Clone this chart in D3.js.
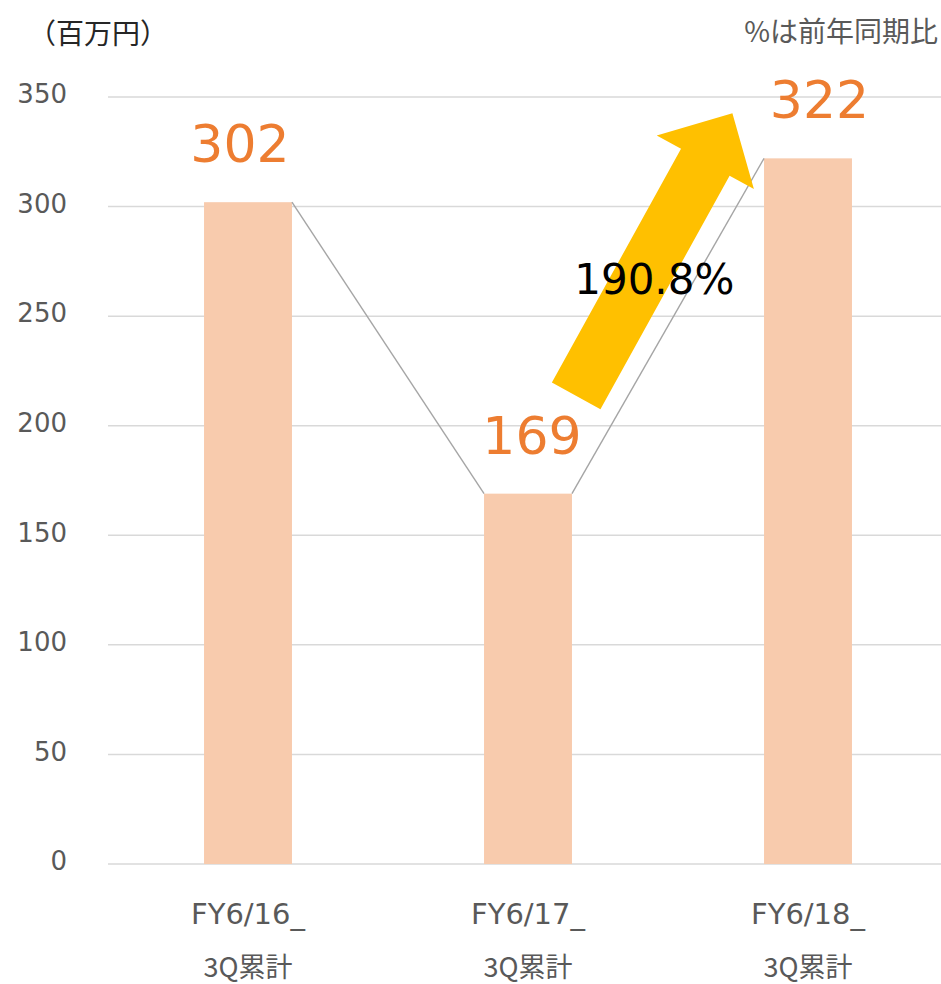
<!DOCTYPE html>
<html>
<head>
<meta charset="utf-8">
<script src="https://cdn.jsdelivr.net/npm/d3@7"></script>
<style>
  html, body { margin: 0; padding: 0; background: #fff; }
  svg { display: block; font-family: "DejaVu Sans", "Noto Sans CJK JP", sans-serif; }
</style>
</head>
<body>
<div id="chart"></div>
<script>
// --- data ---
const categories = ["FY6/16_", "FY6/17_", "FY6/18_"];
const subLabels = ["3Q累計", "3Q累計", "3Q累計"];
const sales = [302, 169, 322];
const yTicks = [0, 50, 100, 150, 200, 250, 300, 350];
const growthLabel = "190.8%";
const unitLabel = "（百万円）";
const noteLabel = "%は前年同期比";

// small hand nudges for the value labels (as in the source slide)
const labelNudge = [-8, 4, 11.5];

const width = 941, height = 984;
const margin = { top: 97, right: -7, bottom: 120, left: 108 };

const svg = d3.select("#chart").append("svg")
  .attr("width", width)
  .attr("height", height);

const x = d3.scaleBand()
  .domain(categories)
  .range([margin.left, width - margin.right])
  .paddingInner(0.686)
  .paddingOuter(0.343);

const y = d3.scaleLinear()
  .domain([0, 350])
  .range([height - margin.bottom, margin.top]);

// gridlines
svg.append("g")
  .selectAll("line")
  .data(yTicks)
  .join("line")
  .attr("x1", margin.left)
  .attr("x2", width)
  .attr("y1", d => y(d))
  .attr("y2", d => y(d))
  .attr("stroke", "#d9d9d9")
  .attr("stroke-width", 1.5);

// y axis labels
const yAxis = svg.append("g")
  .attr("transform", `translate(${margin.left},0)`)
  .call(d3.axisLeft(y).tickValues(yTicks).tickSize(0).tickPadding(41));
yAxis.select(".domain").remove();
yAxis.selectAll("text")
  .attr("dy", "0.22em")
  .style("font-family", "DejaVu Sans, sans-serif")
  .style("font-size", "26px")
  .attr("fill", "#595959");

// bars
svg.append("g")
  .selectAll("rect")
  .data(sales)
  .join("rect")
  .attr("x", (d, i) => x(categories[i]))
  .attr("y", d => y(d))
  .attr("width", x.bandwidth())
  .attr("height", d => y(0) - y(d))
  .attr("fill", "#F8CBAD");

// connector lines between bar tops
const conn = d3.range(sales.length - 1).map(i => [
  [x(categories[i]) + x.bandwidth(), y(sales[i])],
  [x(categories[i + 1]), y(sales[i + 1])]
]);
svg.append("g")
  .selectAll("line")
  .data(conn)
  .join("line")
  .attr("x1", d => d[0][0])
  .attr("y1", d => d[0][1])
  .attr("x2", d => d[1][0])
  .attr("y2", d => d[1][1])
  .attr("stroke", "#a5a5a5")
  .attr("stroke-width", 1.4);

// growth arrow (from bar 2 toward bar 3)
const xi = d3.scaleLinear()
  .domain([0, categories.length - 1])
  .range([x(categories[0]) + x.bandwidth() / 2, x(categories[categories.length - 1]) + x.bandwidth() / 2]);
const tail = [xi(1.172), y(213.6)];
const tip = [xi(1.73), y(342.6)];
const dx = tip[0] - tail[0], dy = tip[1] - tail[1];
const len = Math.hypot(dx, dy);
const u = [dx / len, dy / len];
const n = [-u[1], u[0]];
const shaftW = 55.5, headW = 111, headL = 56;
const pt = (along, across) => [tail[0] + u[0] * along + n[0] * across, tail[1] + u[1] * along + n[1] * across];
const arrowPts = [
  pt(0, -shaftW / 2),
  pt(len - headL, -shaftW / 2),
  pt(len - headL, -headW / 2),
  pt(len, 0),
  pt(len - headL, headW / 2),
  pt(len - headL, shaftW / 2),
  pt(0, shaftW / 2)
];
svg.append("polygon")
  .attr("points", arrowPts.map(p => p.join(",")).join(" "))
  .attr("fill", "#FFC000");

const mid = [(tail[0] + tip[0]) / 2, (tail[1] + tip[1]) / 2];
svg.append("text")
  .attr("x", mid[0])
  .attr("y", mid[1] + 39)
  .attr("text-anchor", "middle")
  .style("font-size", "42px")
  .attr("fill", "#000")
  .text(growthLabel);

// value labels
svg.append("g")
  .selectAll("text")
  .data(sales)
  .join("text")
  .attr("x", (d, i) => x(categories[i]) + x.bandwidth() / 2 + labelNudge[i])
  .attr("y", d => y(d) - 40)
  .attr("text-anchor", "middle")
  .style("font-size", "52px")
  .attr("fill", "#ED7D31")
  .text(d => d);

// category labels
const xl = svg.append("g")
  .selectAll("text")
  .data(categories)
  .join("text")
  .attr("text-anchor", "middle")
  .attr("fill", "#595959")
  .style("font-size", "29px");
xl.append("tspan")
  .attr("x", d => x(d) + x.bandwidth() / 2)
  .attr("y", 924)
  .text(d => d);
xl.append("tspan")
  .attr("x", d => x(d) + x.bandwidth() / 2)
  .attr("y", 977)
  .style("font-family", "Noto Sans CJK JP, sans-serif")
  .style("font-size", "27px")
  .text((d, i) => subLabels[i]);

// titles
svg.append("text")
  .attr("x", 28)
  .attr("y", 44)
  .style("font-family", "Noto Sans CJK JP, sans-serif")
  .style("font-size", "28px")
  .attr("fill", "#262626")
  .text(unitLabel);

svg.append("text")
  .attr("x", 938)
  .attr("y", 42)
  .attr("text-anchor", "end")
  .style("font-family", "Noto Sans CJK JP, sans-serif")
  .style("font-size", "28px")
  .attr("fill", "#595959")
  .text(noteLabel);
</script>
</body>
</html>
